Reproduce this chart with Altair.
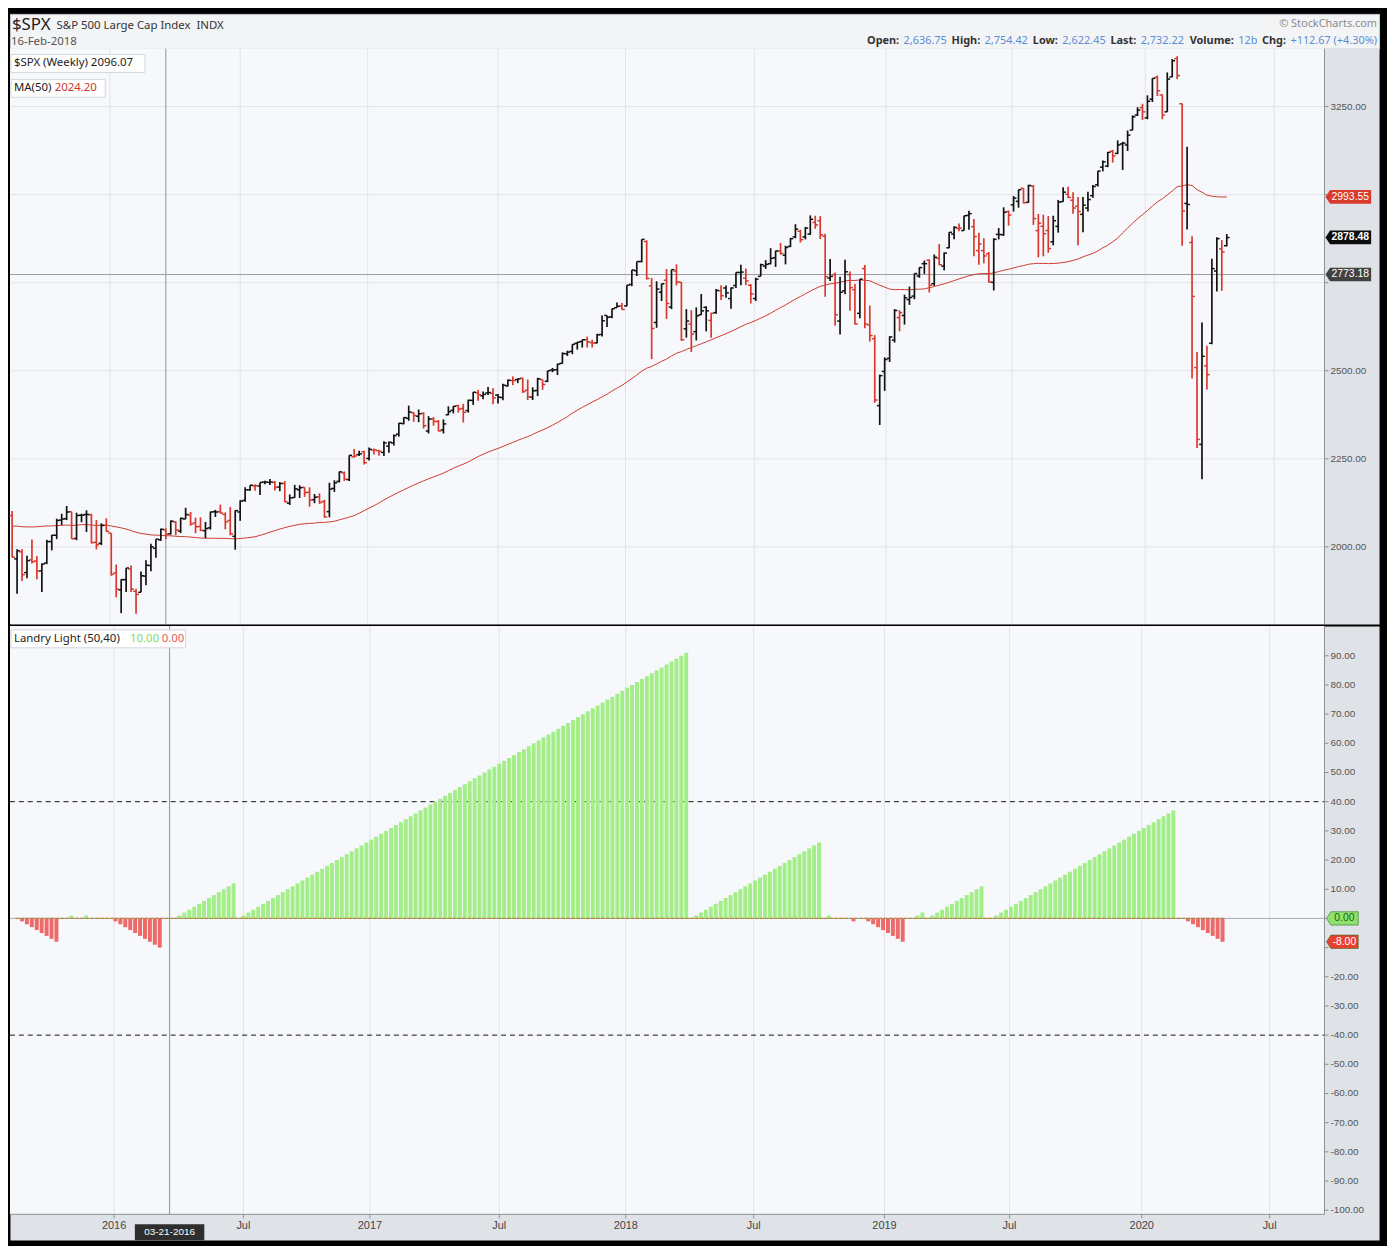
import altair as alt
import pandas as pd

# ---------------- data (weekly bars, week ending Friday) ----------------
FIRST_WEEK = "2015-08-21"

OPEN = [
    2089, 1966, 1986, 1927, 1963, 1960, 1932, 1954, 2015, 2033,
    2076, 2080, 2100, 2024, 2090, 2092, 2091, 2013, 2010, 2061,
    2039, 1926, 1878, 1907, 1937, 1874, 1871, 1917, 1947, 1996,
    2020, 2048, 2037, 2071, 2045, 2079, 2090, 2068, 2058, 2046,
    2054, 2100, 2100, 2092, 2075, 2030, 2099, 2132, 2162, 2173,
    2173, 2184, 2183, 2183, 2170, 2180, 2124, 2140, 2162, 2169,
    2155, 2134, 2142, 2129, 2100, 2166, 2186, 2210, 2191, 2256,
    2262, 2270, 2251, 2274, 2273, 2268, 2286, 2295, 2320, 2350,
    2365, 2381, 2371, 2379, 2329, 2363, 2356, 2332, 2375, 2388,
    2401, 2393, 2387, 2416, 2437, 2429, 2437, 2436, 2431, 2424,
    2457, 2472, 2475, 2479, 2445, 2425, 2444, 2475, 2470, 2502,
    2503, 2521, 2548, 2555, 2578, 2583, 2588, 2580, 2579, 2603,
    2657, 2653, 2679, 2684, 2684, 2745, 2784, 2810, 2867, 2741,
    2637, 2723, 2757, 2681, 2783, 2751, 2619, 2633, 2611, 2659,
    2680, 2643, 2665, 2727, 2735, 2705, 2742, 2779, 2763, 2743,
    2705, 2768, 2797, 2804, 2821, 2840, 2828, 2853, 2880, 2896,
    2880, 2888, 2921, 2926, 2882, 2763, 2773, 2641, 2727, 2773,
    2730, 2663, 2790, 2630, 2591, 2401, 2498, 2535, 2587, 2651,
    2657, 2702, 2712, 2769, 2804, 2814, 2747, 2819, 2797, 2849,
    2888, 2904, 2898, 2941, 2909, 2841, 2841, 2832, 2751, 2887,
    2886, 2952, 2971, 2981, 3018, 2978, 3024, 2898, 2910, 2898,
    2866, 2910, 2980, 3001, 2984, 2967, 2944, 2962, 2997, 3028,
    3078, 3081, 3123, 3117, 3144, 3141, 3183, 3226, 3247, 3218,
    3271, 3333, 3283, 3235, 3334, 3386, 3258, 2975, 2864, 2509,
    2291, 2514, 2578, 2783, 2846, 2855,
]
HIGH = [
    2102, 1993, 1993, 1975, 2021, 1974, 1953, 2020, 2034, 2080,
    2094, 2116, 2100, 2097, 2094, 2104, 2094, 2076, 2067, 2081,
    2039, 1950, 1908, 1940, 1947, 1881, 1930, 1962, 2009, 2022,
    2052, 2053, 2075, 2073, 2083, 2111, 2099, 2083, 2084, 2071,
    2100, 2105, 2120, 2098, 2113, 2104, 2132, 2169, 2175, 2178,
    2183, 2188, 2193, 2187, 2184, 2187, 2149, 2176, 2175, 2169,
    2169, 2150, 2152, 2134, 2182, 2189, 2214, 2214, 2260, 2278,
    2273, 2273, 2282, 2279, 2276, 2300, 2299, 2319, 2352, 2368,
    2401, 2383, 2390, 2382, 2371, 2369, 2360, 2362, 2399, 2400,
    2403, 2406, 2418, 2440, 2446, 2441, 2454, 2450, 2434, 2463,
    2475, 2484, 2478, 2480, 2475, 2453, 2480, 2475, 2500, 2508,
    2520, 2552, 2557, 2575, 2582, 2588, 2597, 2588, 2605, 2657,
    2657, 2676, 2694, 2692, 2743, 2786, 2810, 2873, 2870, 2763,
    2754, 2747, 2789, 2787, 2802, 2752, 2675, 2672, 2680, 2718,
    2683, 2665, 2732, 2743, 2742, 2736, 2779, 2801, 2790, 2746,
    2764, 2804, 2814, 2848, 2841, 2863, 2855, 2877, 2916, 2900,
    2908, 2941, 2940, 2939, 2889, 2817, 2779, 2767, 2815, 2782,
    2746, 2760, 2800, 2685, 2601, 2489, 2538, 2598, 2675, 2672,
    2716, 2739, 2776, 2794, 2813, 2816, 2830, 2860, 2836, 2893,
    2910, 2918, 2940, 2954, 2931, 2892, 2876, 2837, 2876, 2905,
    2964, 2955, 2996, 3014, 3018, 3028, 3027, 2945, 2943, 2939,
    2940, 2985, 3021, 3022, 3007, 2993, 2993, 3008, 3027, 3067,
    3097, 3121, 3127, 3154, 3150, 3182, 3225, 3248, 3258, 3282,
    3330, 3338, 3284, 3347, 3385, 3393, 3259, 3136, 2882, 2553,
    2637, 2571, 2818, 2879, 2871, 2888,
]
LOW = [
    1970, 1867, 1903, 1911, 1953, 1908, 1872, 1951, 1990, 2022,
    2062, 2076, 2023, 2019, 2070, 2042, 2010, 1993, 2005, 2043,
    1918, 1857, 1812, 1872, 1872, 1810, 1871, 1891, 1931, 1969,
    2017, 2022, 2035, 2033, 2039, 2079, 2060, 2039, 2045, 2025,
    2049, 2085, 2095, 2050, 2033, 1992, 2074, 2128, 2159, 2159,
    2147, 2178, 2176, 2160, 2158, 2127, 2119, 2139, 2139, 2142,
    2114, 2124, 2122, 2083, 2084, 2156, 2183, 2187, 2187, 2253,
    2258, 2234, 2245, 2262, 2259, 2258, 2267, 2288, 2313, 2348,
    2358, 2355, 2354, 2336, 2322, 2344, 2328, 2322, 2374, 2379,
    2381, 2353, 2381, 2403, 2415, 2419, 2431, 2405, 2407, 2416,
    2455, 2459, 2465, 2437, 2417, 2417, 2428, 2446, 2468, 2496,
    2488, 2520, 2542, 2547, 2560, 2566, 2566, 2566, 2578, 2597,
    2624, 2649, 2679, 2673, 2683, 2740, 2769, 2808, 2759, 2533,
    2622, 2698, 2647, 2675, 2742, 2585, 2594, 2553, 2586, 2658,
    2612, 2594, 2662, 2701, 2707, 2676, 2735, 2743, 2743, 2691,
    2698, 2768, 2789, 2802, 2795, 2830, 2802, 2851, 2876, 2864,
    2873, 2886, 2903, 2874, 2710, 2755, 2628, 2603, 2717, 2670,
    2631, 2649, 2621, 2583, 2409, 2346, 2443, 2525, 2580, 2612,
    2631, 2687, 2703, 2764, 2775, 2722, 2741, 2800, 2785, 2848,
    2873, 2896, 2898, 2900, 2825, 2801, 2805, 2750, 2728, 2873,
    2883, 2912, 2952, 2963, 2975, 2977, 2914, 2822, 2825, 2835,
    2856, 2892, 2980, 2990, 2946, 2856, 2893, 2952, 2991, 3023,
    3066, 3078, 3091, 3115, 3070, 3124, 3183, 3223, 3212, 3214,
    3263, 3280, 3214, 3235, 3334, 3328, 2855, 2901, 2478, 2281,
    2192, 2447, 2575, 2725, 2727, 2853,
]
CLOSE = [
    1971, 1989, 1921, 1961, 1958, 1931, 1951, 2015, 2033, 2075,
    2079, 2099, 2023, 2089, 2090, 2092, 2012, 2006, 2061, 2044,
    1922, 1880, 1907, 1940, 1880, 1865, 1918, 1948, 2000, 2022,
    2050, 2036, 2073, 2048, 2081, 2092, 2065, 2057, 2047, 2052,
    2099, 2099, 2096, 2071, 2037, 2103, 2130, 2162, 2175, 2174,
    2183, 2184, 2184, 2169, 2180, 2128, 2139, 2165, 2168, 2154,
    2133, 2141, 2126, 2085, 2164, 2182, 2213, 2192, 2260, 2258,
    2264, 2239, 2277, 2275, 2271, 2295, 2297, 2316, 2351, 2367,
    2383, 2373, 2378, 2344, 2363, 2356, 2329, 2349, 2384, 2399,
    2391, 2382, 2416, 2439, 2432, 2433, 2438, 2423, 2425, 2459,
    2473, 2472, 2477, 2441, 2426, 2443, 2477, 2461, 2500, 2502,
    2519, 2549, 2553, 2575, 2581, 2588, 2582, 2579, 2602, 2642,
    2652, 2676, 2683, 2674, 2743, 2786, 2810, 2873, 2762, 2620,
    2732, 2747, 2691, 2787, 2752, 2588, 2641, 2604, 2656, 2670,
    2670, 2663, 2728, 2713, 2721, 2735, 2779, 2780, 2755, 2718,
    2760, 2801, 2802, 2819, 2840, 2833, 2850, 2875, 2902, 2872,
    2905, 2930, 2914, 2886, 2767, 2768, 2659, 2723, 2781, 2736,
    2633, 2760, 2633, 2600, 2417, 2486, 2532, 2596, 2671, 2665,
    2707, 2708, 2776, 2793, 2804, 2743, 2822, 2801, 2834, 2893,
    2907, 2905, 2940, 2946, 2881, 2860, 2826, 2752, 2873, 2887,
    2950, 2942, 2990, 3014, 2977, 3026, 2932, 2919, 2889, 2847,
    2926, 2979, 3007, 2992, 2962, 2952, 2970, 2986, 3023, 3067,
    3093, 3120, 3110, 3141, 3146, 3169, 3221, 3240, 3235, 3265,
    3330, 3295, 3226, 3328, 3380, 3338, 2954, 2972, 2711, 2305,
    2541, 2489, 2790, 2875, 2837, 2878,
]
# 49 weekly closes before the first bar (Sep 2014 - Aug 2015), needed for MA(50)
PRIOR_CLOSE = [
    1986, 2010, 1983, 1968, 1906, 1887, 1965, 2018, 2032, 2040,
    2064, 2068, 2075, 2002, 2071, 2089, 2058, 2045, 2019, 2052,
    1995, 2055, 2097, 2110, 2105, 2071, 2053, 2108, 2061, 2067,
    2102, 2081, 2118, 2108, 2116, 2123, 2126, 2107, 2093, 2094,
    2110, 2101, 2077, 2077, 2127, 2080, 2104, 2078, 2092,
]
LANDRY = [
    0, -1, -2, -3, -4, -5, -6, -7, -8, 0,
    0, 1, 0, 0, 1, 0, 0, 0, 0, 0,
    -1, -2, -3, -4, -5, -6, -7, -8, -9, -10,
    0, 0, 0, 1, 2, 3, 4, 5, 6, 7,
    8, 9, 10, 11, 12, 0, 1, 2, 3, 4,
    5, 6, 7, 8, 9, 10, 11, 12, 13, 14,
    15, 16, 17, 18, 19, 20, 21, 22, 23, 24,
    25, 26, 27, 28, 29, 30, 31, 32, 33, 34,
    35, 36, 37, 38, 39, 40, 41, 42, 43, 44,
    45, 46, 47, 48, 49, 50, 51, 52, 53, 54,
    55, 56, 57, 58, 59, 60, 61, 62, 63, 64,
    65, 66, 67, 68, 69, 70, 71, 72, 73, 74,
    75, 76, 77, 78, 79, 80, 81, 82, 83, 84,
    85, 86, 87, 88, 89, 90, 91, 0, 1, 2,
    3, 4, 5, 6, 7, 8, 9, 10, 11, 12,
    13, 14, 15, 16, 17, 18, 19, 20, 21, 22,
    23, 24, 25, 26, 0, 1, 0, 0, 0, 0,
    -1, 0, 0, -1, -2, -3, -4, -5, -6, -7,
    -8, 0, 0, 1, 2, 0, 1, 2, 3, 4,
    5, 6, 7, 8, 9, 10, 11, 0, 0, 1,
    2, 3, 4, 5, 6, 7, 8, 9, 10, 11,
    12, 13, 14, 15, 16, 17, 18, 19, 20, 21,
    22, 23, 24, 25, 26, 27, 28, 29, 30, 31,
    32, 33, 34, 35, 36, 37, 0, 0, -1, -2,
    -3, -4, -5, -6, -7, -8,
]

X_TICKS = ["2016-01-06", "2016-07-08", "2017-01-04", "2017-07-07", "2018-01-03",
           "2018-07-04", "2019-01-06", "2019-07-03", "2020-01-07", "2020-07-07"]
X_TICK_LABELS = ["2016", "Jul", "2017", "Jul", "2018", "Jul", "2019", "Jul", "2020", "Jul"]
PRICE_TICKS = [2000, 2250, 2500, 2750, 3000, 3250]
PRICE_LABELS = [2000, 2250, 2500, 3250]          # 2750 / 3000 sit under the value tags
IND_TICKS = [-100, -90, -80, -70, -60, -50, -40, -30, -20, -10,
             0, 10, 20, 30, 40, 50, 60, 70, 80, 90]
IND_LABELS = [-100, -90, -80, -70, -60, -50, -40, -30, -20,
              10, 20, 30, 40, 50, 60, 70, 80, 90]  # 0 / -10 sit under the value tags
IND_LEVELS = [40, -40]
CROSS_DATE = "2016-03-25"
CROSS_LABEL = "03-21-2016"
CROSS_PRICE = 2773.18
PRICE_TAGS = [2993.55, 2878.48, 2773.18]
PRICE_TAG_TEXT = ["2993.55", "2878.48", "2773.18"]
PRICE_TAG_BOLD = [False, True, False]
IND_TAGS = [0.0, -8.0]
IND_TAG_TEXT = ["0.00", "-8.00"]

assert len(OPEN) == len(HIGH) == len(LOW) == len(CLOSE) == len(LANDRY) == 246

# ---------------- derived tables ----------------
DAY = 86400000


def ms(s):
    return int(pd.Timestamp(s).value // 10**6)


dates = pd.date_range(FIRST_WEEK, periods=len(CLOSE), freq="7D")
T = [int(d.value // 10**6) for d in dates]
prev = [PRIOR_CLOSE[-1]] + CLOSE[:-1]
ma = pd.Series(PRIOR_CLOSE + CLOSE, dtype=float).rolling(50).mean().iloc[len(PRIOR_CLOSE):].round(2).tolist()

BLACK_BAR = "#111111"
RED_BAR = "#d8392e"
price = pd.DataFrame({
    "t": T,
    "t_o": [v - 4 * DAY for v in T],
    "t_c": [v + 4 * DAY for v in T],
    "o": OPEN, "h": HIGH, "l": LOW, "c": CLOSE, "ma": ma,
    "col": [BLACK_BAR if c >= p else RED_BAR for c, p in zip(CLOSE, prev)],
})
ind = pd.DataFrame({
    "t": T, "v": LANDRY, "z": [0] * len(T),
    "col": ["#a4ee8a" if v > 0 else "#ee6a6a" for v in LANDRY],
})
xtick_df = pd.DataFrame({"t": [ms(s) for s in X_TICKS], "lab": X_TICK_LABELS})
ptick_df = pd.DataFrame({"v": PRICE_TICKS})
plab_df = pd.DataFrame({"v": PRICE_LABELS, "lab": [f"{v:.2f}" for v in PRICE_LABELS]})
itick_df = pd.DataFrame({"v": IND_TICKS})
ilab_df = pd.DataFrame({"v": IND_LABELS, "lab": [f"{v:.2f}" for v in IND_LABELS]})
cross_df = pd.DataFrame({"t": [ms(CROSS_DATE)], "lab": [CROSS_LABEL]})
cross_p_df = pd.DataFrame({"v": [CROSS_PRICE]})
lvl_df = pd.DataFrame({"v": IND_LEVELS})
zero_df = pd.DataFrame({"t0": [T[0] - 2 * DAY], "t1": [T[-1] + 2 * DAY], "v": [0]})
ptag_df = pd.DataFrame({"v": PRICE_TAGS, "lab": PRICE_TAG_TEXT, "bold": PRICE_TAG_BOLD,
                        "fill": ["#d93a2b", "#0d0d0d", "#424242"]})
itag_df = pd.DataFrame({"v": IND_TAGS, "lab": IND_TAG_TEXT,
                        "fill": ["#8ee26c", "#e8402d"], "tc": ["#1f5e14", "#ffffff"]})
ONE = pd.DataFrame({"k": [0]})

# ---------------- layout constants ----------------
PW, AW = 1325, 55
VW = PW + AW
HH, PH, IH, BAND = 35, 580, 593, 26
PLOT_BG = "#f7f8fb"
AXIS_BG = "#dfe2e7"
GRID = "#e1e4e8"
AXIS_LINE = "#8b9097"
FONT = "Noto Sans"
AX_FONT = "Liberation Sans"

XS = alt.Scale(domain=[ms("2015-08-18"), ms("2020-09-16")], range=[0, PW])
YP = alt.Scale(domain=[1781, 3414.5], nice=False, zero=False)
YI = alt.Scale(domain=[-101.4, 100.2], range=[IH, 0], nice=False, zero=False)


def X(f):
    return alt.X(f, scale=XS, axis=None)


def YPq(f):
    return alt.Y(f, scale=YP, axis=None)


def YIq(f):
    return alt.Y(f, scale=YI, axis=None)


def txt(s, x, y, size=11, color="#333333", weight="normal", align="left", font=FONT):
    return alt.Chart(pd.DataFrame({"s": [s]})).mark_text(
        align=align, baseline="middle", fontSize=size, color=color,
        fontWeight=weight, font=font
    ).encode(text="s:N", x=alt.value(x), y=alt.value(y))


def box(x0, x1, y0, y1):
    return alt.Chart(ONE).mark_rect(fill="#ffffff", stroke="#d3d6db", strokeWidth=1).encode(
        x=alt.value(x0), x2=alt.value(x1), y=alt.value(y0), y2=alt.value(y1))


def pix_rule(x0, x1, y0, y1, color=AXIS_LINE, width=1):
    return alt.Chart(ONE).mark_rule(color=color, strokeWidth=width).encode(
        x=alt.value(x0), x2=alt.value(x1), y=alt.value(y0), y2=alt.value(y1))


TAG_PATH = "M -1 0 L -0.8 -0.3 L 1 -0.3 L 1 0.3 L -0.8 0.3 Z"
SMALL_TAG_PATH = "M -1 0 L -0.72 -0.42 L 1 -0.42 L 1 0.42 L -0.72 0.42 Z"
DATE_TAG_PATH = "M -1 -0.23 L 1 -0.23 L 1 0.23 L -1 0.23 Z"

# ---------------- header ----------------
BLUE = "#5a8fd6"
W_REG = {"0": .572, "1": .572, "2": .572, "3": .572, "4": .572, "5": .572, "6": .572,
         "7": .572, "8": .572, "9": .572, ",": .258, ".": .268, " ": .26, "+": .572,
         "(": .296, ")": .296, "%": .827, "b": .613}
W_BOLD = {"O": .82, "p": .66, "e": .6, "n": .66, ":": .29, "H": .79, "i": .32, "g": .59,
          "h": .66, "L": .56, "o": .63, "w": .87, "a": .61, "s": .5, "t": .44, "V": .69,
          "l": .32, "u": .66, "m": .98, "C": .66}
OHLC_SIZE = 11
ohlc = [("Open:", True), ("2,636.75", False), ("High:", True), ("2,754.42", False),
        ("Low:", True), ("2,622.45", False), ("Last:", True), ("2,732.22", False),
        ("Volume:", True), ("12b", False), ("Chg:", True), ("+112.67 (+4.30%)", False)]

header_parts = [
    txt("$SPX", 2, 11, size=17, color="#222222"),
    txt("S&P 500 Large Cap Index\u00a0\u00a0INDX", 47, 12, size=11.5, color="#333333"),
    txt("16-Feb-2018", 1, 28, size=11.5, color="#555555"),
    txt("\u00a9 StockCharts.com", VW - 2, 10, size=11, color="#8a8a8a", align="right"),
]
x_end = VW - 2
for s, lab in reversed(ohlc):
    table = W_BOLD if lab else W_REG
    w = OHLC_SIZE * sum(table.get(ch, 0.6) for ch in s)
    header_parts.append(txt(s, round(x_end, 1), 27, size=OHLC_SIZE,
                            color="#333333" if lab else BLUE,
                            weight="bold" if lab else "normal", align="right"))
    x_end = x_end - w - 4.5
header = alt.layer(*header_parts).properties(
    width=VW, height=HH, view=alt.ViewBackground(fill="#f3f4f6", stroke="#c6cad0"))

# ---------------- price panel ----------------
p_bg = alt.Chart(ONE).mark_rect(fill=PLOT_BG).encode(
    x=alt.value(0), x2=alt.value(PW), y=alt.value(0), y2=alt.value(PH))
p_xgrid = alt.Chart(xtick_df).mark_rule(color=GRID).encode(
    x=X("t:T"), y=alt.value(0), y2=alt.value(PH))
p_ygrid = alt.Chart(ptick_df).mark_rule(color=GRID).encode(
    y=YPq("v:Q"), x=alt.value(0), x2=alt.value(PW))
p_ticks = alt.Chart(ptick_df).mark_rule(color=AXIS_LINE).encode(
    y=YPq("v:Q"), x=alt.value(PW), x2=alt.value(PW + 4))
p_labels = alt.Chart(plab_df).mark_text(align="left", baseline="middle", fontSize=10,
                                        font=AX_FONT, color="#555555").encode(
    y=YPq("v:Q"), x=alt.value(PW + 6), text="lab:N")
p_cross_v = alt.Chart(cross_df).mark_rule(color="#8e9297").encode(
    x=X("t:T"), y=alt.value(0), y2=alt.value(PH))
p_cross_h = alt.Chart(cross_p_df).mark_rule(color="#9a9da2").encode(
    y=YPq("v:Q"), x=alt.value(0), x2=alt.value(PW))
p_ma = alt.Chart(price).mark_line(color="#cc3a30", strokeWidth=1).encode(
    x=X("t:T"), y=YPq("ma:Q"))
p_hl = alt.Chart(price).mark_rule(strokeWidth=1.7).encode(
    x=X("t:T"), y=YPq("l:Q"), y2="h:Q", color=alt.Color("col:N", scale=None))
p_open = alt.Chart(price).mark_rule(strokeWidth=1.5).encode(
    x=X("t_o:T"), x2="t:T", y=YPq("o:Q"), color=alt.Color("col:N", scale=None))
p_close = alt.Chart(price).mark_rule(strokeWidth=1.5).encode(
    x=X("t:T"), x2="t_c:T", y=YPq("c:Q"), color=alt.Color("col:N", scale=None))
p_tags = alt.Chart(ptag_df).mark_point(shape=TAG_PATH, size=2116, filled=True, opacity=1).encode(
    x=alt.value(PW + 24), y=YPq("v:Q"), color=alt.Color("fill:N", scale=None))
p_tag_txt_b = alt.Chart(ptag_df).transform_filter("datum.bold").mark_text(
    color="#ffffff", fontSize=10.5, font=AX_FONT, fontWeight="bold").encode(
    x=alt.value(PW + 26), y=YPq("v:Q"), text="lab:N")
p_tag_txt_n = alt.Chart(ptag_df).transform_filter("!datum.bold").mark_text(
    color="#ffffff", fontSize=10.5, font=AX_FONT).encode(
    x=alt.value(PW + 26), y=YPq("v:Q"), text="lab:N")

price_chart = alt.layer(
    p_bg, p_xgrid, p_ygrid, p_cross_v, p_cross_h, p_ma, p_hl, p_open, p_close,
    pix_rule(PW, PW, 0, PH), p_ticks, p_labels,
    box(1, 136, 6, 24), txt("$SPX (Weekly) 2096.07", 4, 15, size=11.5, color="#222222"),
    box(1, 96, 31, 49), txt("MA(50)", 4, 40, size=11.5, color="#222222"),
    txt("2024.20", 45, 40, size=11.5, color="#c8362d"),
    p_tags, p_tag_txt_b, p_tag_txt_n,
).properties(width=VW, height=PH, view=alt.ViewBackground(fill=AXIS_BG, stroke="transparent"))

# ---------------- indicator panel ----------------
i_bg = alt.Chart(ONE).mark_rect(fill=PLOT_BG).encode(
    x=alt.value(0), x2=alt.value(PW), y=alt.value(0), y2=alt.value(IH))
i_xgrid = alt.Chart(xtick_df).mark_rule(color=GRID).encode(
    x=X("t:T"), y=alt.value(0), y2=alt.value(IH))
i_xticks = alt.Chart(xtick_df).mark_rule(color=AXIS_LINE).encode(
    x=X("t:T"), y=alt.value(IH), y2=alt.value(IH + 4))
i_xlabels = alt.Chart(xtick_df).mark_text(baseline="middle", fontSize=11,
                                          font=AX_FONT, color="#444444").encode(
    x=X("t:T"), y=alt.value(IH + 12), text="lab:N")
i_yticks = alt.Chart(itick_df).mark_rule(color=AXIS_LINE).encode(
    y=YIq("v:Q"), x=alt.value(PW), x2=alt.value(PW + 4))
i_ylabels = alt.Chart(ilab_df).mark_text(align="left", baseline="middle", fontSize=10,
                                         font=AX_FONT, color="#555555").encode(
    y=YIq("v:Q"), x=alt.value(PW + 6), text="lab:N")
i_cross_v = alt.Chart(cross_df).mark_rule(color="#8e9297").encode(
    x=X("t:T"), y=alt.value(0), y2=alt.value(IH))
i_levels = alt.Chart(lvl_df).mark_rule(color="#111111", strokeDash=[5, 4]).encode(
    y=YIq("v:Q"), x=alt.value(0), x2=alt.value(PW))
i_zero_gray = alt.Chart(zero_df).mark_rule(color="#a7aaae").encode(
    y=YIq("v:Q"), x=alt.value(0), x2=alt.value(PW))
i_bars = alt.Chart(ind).mark_bar(size=4).encode(
    x=X("t:T"), y=YIq("v:Q"), y2="z:Q", color=alt.Color("col:N", scale=None))
i_zero = alt.Chart(zero_df).mark_rule(color="#b8873e", strokeWidth=1.4, strokeDash=[4, 1]).encode(
    x=X("t0:T"), x2="t1:T", y=YIq("v:Q"))
i_tags = alt.Chart(itag_df).mark_point(shape=SMALL_TAG_PATH, size=1024, filled=True, opacity=1,
                                        stroke="#2f6e22", strokeWidth=0.6).encode(
    x=alt.value(PW + 18), y=YIq("v:Q"), color=alt.Color("fill:N", scale=None))
i_tag_txt = alt.Chart(itag_df).mark_text(fontSize=10.5, font=AX_FONT).encode(
    x=alt.value(PW + 20), y=YIq("v:Q"), text="lab:N", color=alt.Color("tc:N", scale=None))
i_date_tag = alt.Chart(cross_df).mark_point(shape=DATE_TAG_PATH, size=4900, filled=True,
                                            opacity=1, color="#2e2e2e").encode(
    x=X("t:T"), y=alt.value(IH + 18))
i_date_txt = alt.Chart(cross_df).mark_text(color="#ffffff", fontSize=10,
                                           font=AX_FONT).encode(
    x=X("t:T"), y=alt.value(IH + 18), text="lab:N")

ind_chart = alt.layer(
    i_bg, i_xgrid, i_cross_v, i_zero_gray, i_levels, i_bars, i_zero,
    pix_rule(PW, PW, 0, IH), pix_rule(0, PW, IH, IH), i_xticks, i_xlabels, i_yticks, i_ylabels,
    box(1, 177, 4, 22), txt("Landry Light (50,40)", 4, 13, size=11.5, color="#222222"),
    txt("10.00", 121, 13, size=11.5, color="#86d96a"),
    txt("0.00", 153, 13, size=11.5, color="#e0605a"),
    i_tags, i_tag_txt, i_date_tag, i_date_txt,
).properties(width=VW, height=IH + BAND,
             view=alt.ViewBackground(fill=AXIS_BG, stroke="transparent"))

panels = alt.vconcat(price_chart, ind_chart, spacing=2, bounds="flush").resolve_scale(
    x="independent", y="independent")
chart = alt.vconcat(header, panels, spacing=0, bounds="flush").properties(
    background="#000000", padding={"left": 0, "top": 0, "right": 7, "bottom": 0})

chart.save("out.html", embed_options={"renderer": "svg", "actions": False})
